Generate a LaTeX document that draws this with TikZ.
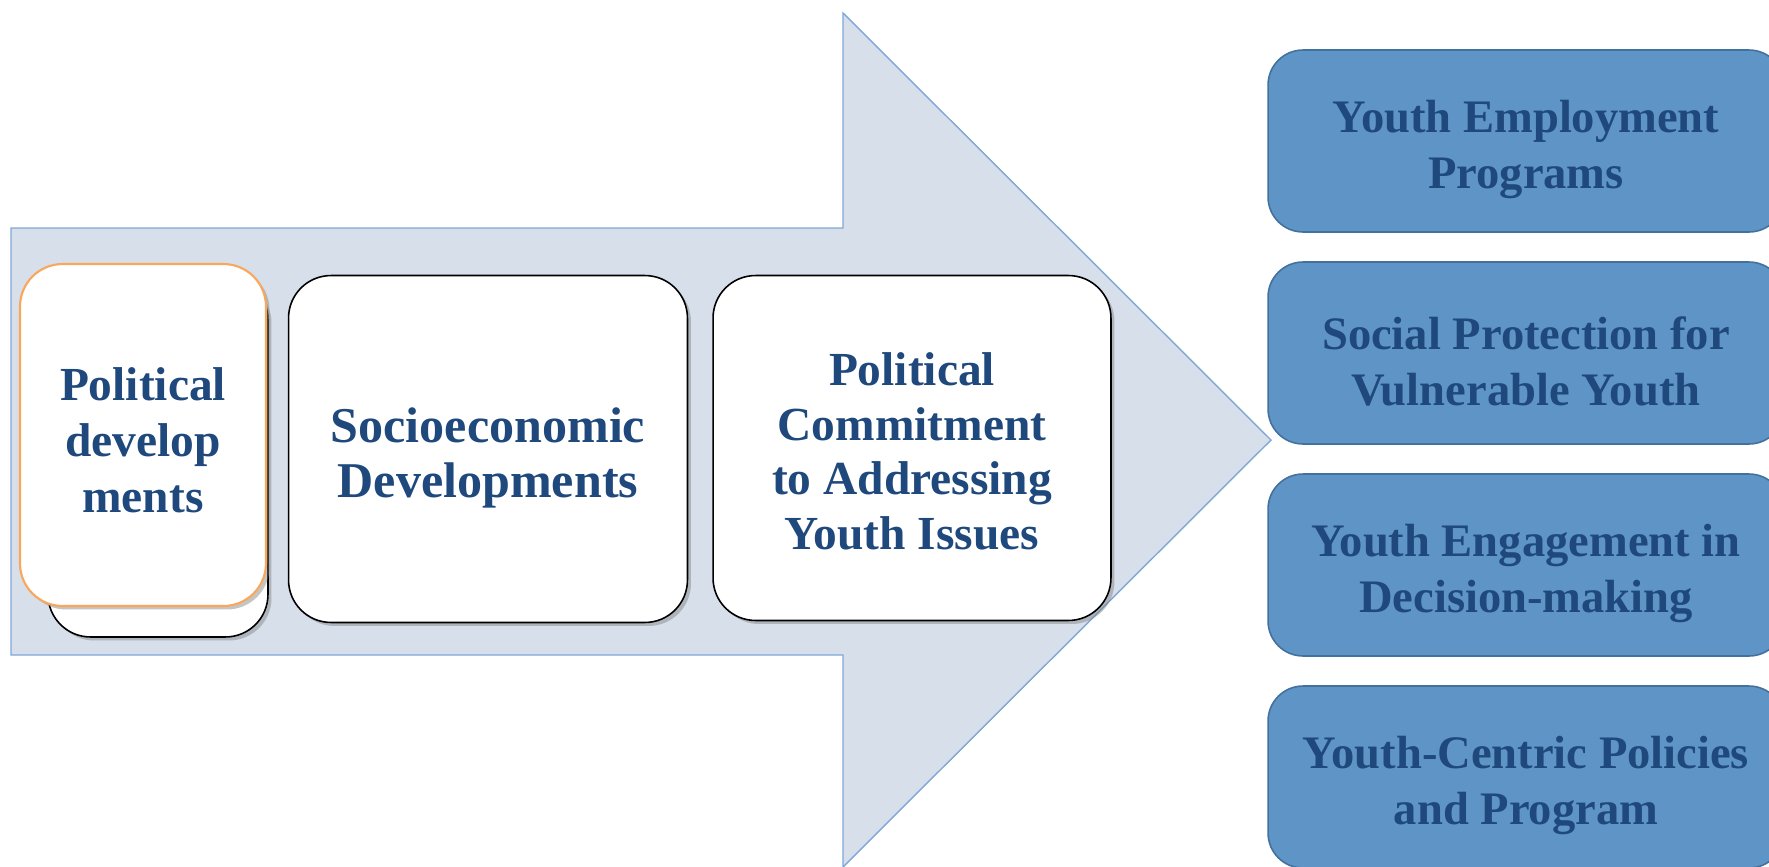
\documentclass[tikz,border=0pt]{standalone}
\usepackage{fontspec}
\setmainfont{Liberation Serif}
\usetikzlibrary{shadows}

\definecolor{titleblue}{HTML}{1F497D}
\definecolor{arrowfill}{HTML}{D7DFEB}
\definecolor{arrowline}{HTML}{7FA7D5}
\definecolor{goalfill}{HTML}{5F94C6}
\definecolor{goalline}{HTML}{41719C}
\definecolor{cardorange}{HTML}{F9A75B}

\tikzset{
  card/.style={draw=black, line width=0.9pt, fill=white, rounded corners=0.85cm,
    drop shadow={shadow xshift=2pt, shadow yshift=-2pt, opacity=0.45}},
  cardtext/.style={align=center, text=titleblue, inner sep=0pt,
    font=\fontsize{27}{32}\selectfont\bfseries},
  goal/.style={draw=goalline, line width=0.9pt, fill=goalfill, rounded corners=0.7cm,
    minimum width=10.32cm, minimum height=3.64cm},
  goaltext/.style={align=center, text=titleblue, inner sep=0pt,
    font=\fontsize{26.5}{32}\selectfont\bfseries},
}

\begin{document}
\begin{tikzpicture}[x=0.02cm, y=-0.02cm]

  \useasboundingbox (0,0) rectangle (1769,866);

  % big arrow behind the cards
  \draw[draw=arrowline, fill=arrowfill, line width=0.8pt]
    (11,228) -- (843,228) -- (843,13) -- (1271,440) -- (843,867) -- (843,655) -- (11,655) -- cycle;

  % cards on the arrow
  \node[card, minimum width=4.4cm, minimum height=7.2cm] (backcard) at (158,457) {};
  \node[card, draw=cardorange, line width=1.2pt, drop shadow={opacity=0},
    minimum width=4.92cm, minimum height=6.84cm] (political) at (143,435) {};
  \node[cardtext] (political-text) at ([yshift=-3pt]political.center) {Political\\develop\\ments};

  \node[card, minimum width=7.98cm, minimum height=6.94cm] (socio) at (488,449) {};
  \node[cardtext, font=\fontsize{28.5}{31}\selectfont\bfseries] (socio-text)
    at ([yshift=-5pt]socio.center) {Socioeconomic\\Developments};

  \node[card, minimum width=7.96cm, minimum height=6.9cm] (commit) at (912,448) {};
  \node[cardtext, font=\fontsize{27}{31}\selectfont\bfseries] (commit-text)
    at ([yshift=-2pt]commit.center) {Political\\Commitment\\to Addressing\\Youth Issues};

  % outcomes
  \node[goal] (employ) at (1526,141) {};
  \node[goaltext] (employ-text) at ([yshift=-5pt]employ.center) {Youth Employment\\Programs};
  \node[goal] (protect) at (1526,353) {};
  \node[goaltext] (protect-text) at ([yshift=-5pt]protect.center) {Social Protection for\\Vulnerable Youth};
  \node[goal] (engage) at (1526,565) {};
  \node[goaltext] (engage-text) at ([yshift=-5pt]engage.center) {Youth Engagement in\\Decision-making};
  \node[goal] (policy) at (1526,777) {};
  \node[goaltext] (policy-text) at ([yshift=-5pt]policy.center) {Youth-Centric Policies\\and Program};

\end{tikzpicture}
\end{document}
